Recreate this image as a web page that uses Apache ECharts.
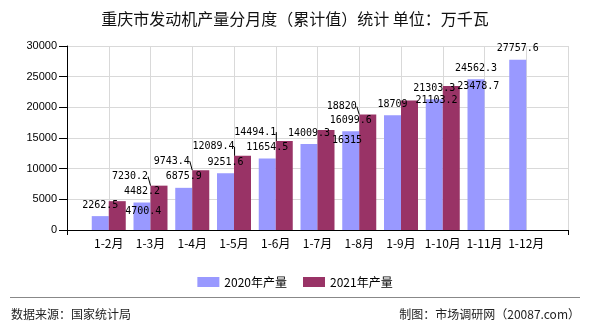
<!DOCTYPE html>
<html><head><meta charset="utf-8">
<script src="https://cdn.jsdelivr.net/npm/echarts@6/dist/echarts.min.js"></script>
<style>html,body{margin:0;padding:0;background:#fff}#c{width:590px;height:330px}</style>
</head><body><div id="c"></div>
<script>
const categories = ['1-2月','1-3月','1-4月','1-5月','1-6月','1-7月','1-8月','1-9月','1-10月','1-11月','1-12月'];
const values2020 = [2262.5, 4482.2, 6875.9, 9251.6, 11654.5, 14009.3, 16099.6, 18709, 21303.3, 24562.3, 27757.6];
const values2021 = [4700.4, 7230.2, 9743.4, 12089.4, 14494.1, 16315, 18820, 21103.2, 23478.7, null, null];
const seriesNames = ['2020年产量', '2021年产量'];
// label displacement (style only) used by the source chart to avoid overlaps
const label2021Shift = [[26, 21], [-29, 2], [-29, 2], [-29, 2], [-29, 2], [21, 21], [-26, 3], [27, 11], [27, 11]];

const axisCats = [''].concat(categories, ['']);
const pad = arr => [null].concat(arr, [null]);
const lastIdx = axisCats.length - 1;

const chart = echarts.init(document.getElementById('c'), null, {renderer: 'canvas'});
const labelStyle = {
  show: true, position: 'top', distance: 6, color: '#000',
  fontFamily: 'DejaVu Sans Mono, monospace', fontSize: 10,
  formatter: p => p.value == null ? '' : String(p.value)
};
chart.setOption({
  animation: false,
  backgroundColor: '#fff',
  title: {
    text: '重庆市发动机产量分月度（累计值）统计 单位：万千瓦',
    left: 'center', top: 6,
    textStyle: {fontFamily: 'Noto Sans CJK SC', fontSize: 16, fontWeight: 'normal', color: '#111'}
  },
  legend: {
    top: 271, left: 'center', itemWidth: 22, itemHeight: 10, itemGap: 16,
    icon: 'rect',
    textStyle: {fontFamily: 'Noto Sans CJK SC', fontSize: 12, color: '#000'},
    data: seriesNames
  },
  grid: {left: 67, right: 22, top: 46, bottom: 100, containLabel: false},
  xAxis: {
    type: 'category', boundaryGap: false, data: axisCats,
    axisLine: {lineStyle: {color: '#000', width: 1}},
    axisTick: {show: true, length: 5, interval: (i) => i === 0 || i === lastIdx, lineStyle: {color: '#000'}},
    axisLabel: {interval: 0, margin: 7, color: '#000', fontFamily: 'Noto Sans CJK SC', fontSize: 12},
    splitLine: {show: true, interval: 0, lineStyle: {color: '#d9d9d9', width: 1}}
  },
  yAxis: {
    type: 'value', min: 0, max: 30000, interval: 5000,
    axisLine: {show: true, lineStyle: {color: '#000', width: 1}},
    axisTick: {show: true, length: 8, lineStyle: {color: '#000'}},
    axisLabel: {margin: 10, color: '#000', fontFamily: 'Liberation Sans, Arial', fontSize: 11,
      formatter: v => String(v)},
    splitLine: {show: true, lineStyle: {color: '#d9d9d9', width: 1}}
  },
  series: [
    {name: seriesNames[0], type: 'bar', data: pad(values2020), barWidth: 17, barGap: '0%',
     itemStyle: {color: '#9999ff'}, label: labelStyle},
    {name: seriesNames[1], type: 'bar', data: pad(values2021), barWidth: 17, barGap: '0%',
     itemStyle: {color: '#993366'}, label: labelStyle,
     labelLine: {show: true, lineStyle: {color: '#000', width: 1}},
     labelLayout: (p) => {
       const s = label2021Shift[p.dataIndex - 1];
       return s ? {dx: s[0], dy: s[1]} : {};
     }}
  ],
  graphic: [
    {type: 'line', shape: {x1: 10, y1: 297.5, x2: 580, y2: 297.5}, style: {stroke: '#888', lineWidth: 1}},
    {type: 'text', left: 11, top: 308, style: {text: '数据来源：国家统计局', fontFamily: 'Noto Sans CJK SC', fontSize: 12, fill: '#222'}},
    {type: 'text', right: 10, top: 308, style: {text: '制图：市场调研网（20087.com）', fontFamily: 'Noto Sans CJK SC', fontSize: 12, fill: '#222'}}
  ]
});
</script>
</body></html>
